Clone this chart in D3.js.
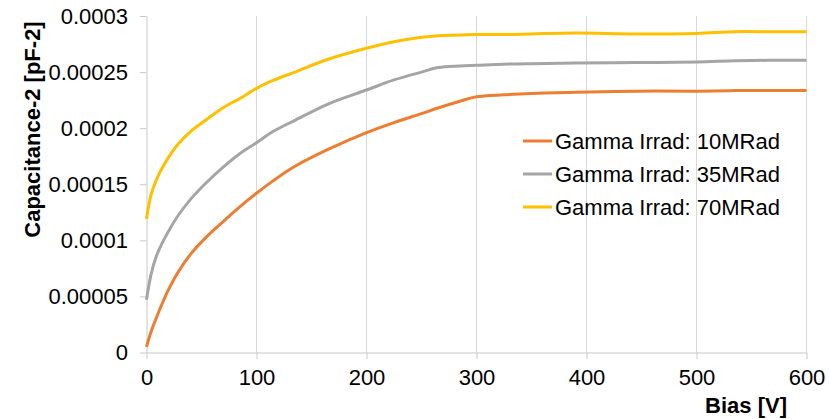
<!DOCTYPE html>
<html>
<head>
<meta charset="utf-8">
<script src="https://cdn.jsdelivr.net/npm/d3@7"></script>
<style>
  body { margin: 0; background: #fff; }
  text { font-family: "Liberation Sans", Arial, sans-serif; }
</style>
</head>
<body>
<div id="chart"></div>
<script>
// bias voltage samples [V]
const bias = [0, 4, 9, 14, 20, 28, 40, 55, 70, 85, 100, 115, 135, 165, 200, 225, 250, 265, 285, 300, 325, 350, 390, 445, 500, 535, 565, 600];

// 1/C^2 [pF-2] for each irradiation dose
const irrad10 = [0.000005, 0.000018, 0.000031, 0.000043, 0.000056, 0.0000705, 0.0000875, 0.0001035, 0.000117, 0.000130,
  0.000142, 0.000153, 0.000166, 0.000181, 0.000196, 0.000205, 0.000213, 0.000218, 0.000224, 0.000228,
  0.0002298, 0.000231, 0.000232, 0.000233, 0.000233, 0.0002335, 0.0002335, 0.0002335];
const irrad35 = [0.000047, 0.000069, 0.000086, 0.000097, 0.000108, 0.000121, 0.0001365, 0.000152, 0.0001655, 0.0001774,
  0.000187, 0.000197, 0.000207, 0.0002215, 0.000234, 0.000243, 0.000250, 0.000254, 0.0002554, 0.000256,
  0.000257, 0.0002575, 0.000258, 0.0002585, 0.000259, 0.00026, 0.0002605, 0.0002605];
const irrad70 = [0.000119, 0.000140, 0.000154, 0.000164, 0.000174, 0.000185, 0.000197, 0.000208, 0.0002185, 0.0002265,
  0.0002355, 0.0002425, 0.00025, 0.0002614, 0.0002712, 0.000277, 0.000281, 0.0002825, 0.000283, 0.0002835,
  0.0002835, 0.000284, 0.0002848, 0.000284, 0.0002845, 0.000286, 0.000286, 0.000286];

const seriesNames = ["Gamma Irrad: 10MRad", "Gamma Irrad: 35MRad", "Gamma Irrad: 70MRad"];
const seriesValues = [irrad10, irrad35, irrad70];
const colors = ["#ED7D31", "#A5A5A5", "#FFC000"];

const xTicks = [0, 100, 200, 300, 400, 500, 600];
const yTicks = [0, 0.00005, 0.0001, 0.00015, 0.0002, 0.00025, 0.0003];
const yTickLabels = ["0", "0.00005", "0.0001", "0.00015", "0.0002", "0.00025", "0.0003"];

const width = 829, height = 419;
const fontSize = 22;

const svg = d3.select("#chart").append("svg")
    .attr("width", width)
    .attr("height", height)
    .attr("viewBox", [0, 0, width, height]);

const x = d3.scaleLinear([0, 600], [146.5, 806.5]);
const y = d3.scaleLinear([0, 0.0003], [352.5, 16]);

// vertical gridlines
svg.append("g")
    .attr("stroke", "#d9d9d9")
    .attr("stroke-width", 1)
  .selectAll("line")
  .data(xTicks.slice(1))
  .join("line")
    .attr("x1", d => x(d))
    .attr("x2", d => x(d))
    .attr("y1", y(0.0003))
    .attr("y2", y(0));

// axes
svg.append("g")
    .attr("transform", `translate(0,${y(0)})`)
    .call(d3.axisBottom(x).tickValues(xTicks).tickSize(6.5).tickPadding(10.5).tickSizeOuter(0))
    .call(g => g.select(".domain").attr("stroke", "#c8c8c8"))
    .call(g => g.selectAll(".tick line").attr("stroke", "#c8c8c8"))
    .call(g => g.selectAll("text")
        .attr("font-size", fontSize)
        .attr("font-family", "Liberation Sans, Arial, sans-serif")
        .attr("fill", "#000"));

svg.append("g")
    .attr("transform", `translate(${x(0)},0)`)
    .call(d3.axisLeft(y).tickValues(yTicks).tickFormat((d, i) => yTickLabels[i])
        .tickSize(6.5).tickPadding(12).tickSizeOuter(0))
    .call(g => g.select(".domain").attr("stroke", "#c8c8c8"))
    .call(g => g.selectAll(".tick line").attr("stroke", "#c8c8c8"))
    .call(g => g.selectAll("text")
        .attr("font-size", fontSize)
        .attr("font-family", "Liberation Sans, Arial, sans-serif")
        .attr("fill", "#000"));

// series lines
const line = d3.line()
    .x((d, i) => x(bias[i]))
    .y(d => y(d))
    .curve(d3.curveCatmullRom.alpha(0.5));

svg.append("g")
    .attr("fill", "none")
    .attr("stroke-width", 3)
    .attr("stroke-linejoin", "round")
  .selectAll("path")
  .data(seriesValues)
  .join("path")
    .attr("stroke", (d, i) => colors[i])
    .attr("d", line);

// axis titles
svg.append("text")
    .attr("transform", "translate(39.5,129.5) rotate(-90)")
    .attr("text-anchor", "middle")
    .attr("font-size", fontSize)
    .attr("font-weight", "bold")
    .attr("fill", "#000")
    .text("Capacitance-2 [pF-2]");

svg.append("text")
    .attr("x", 787)
    .attr("y", 413)
    .attr("text-anchor", "end")
    .attr("font-size", fontSize)
    .attr("font-weight", "bold")
    .attr("fill", "#000")
    .text("Bias [V]");

// legend
const legend = svg.append("g")
  .selectAll("g")
  .data(seriesNames)
  .join("g")
    .attr("transform", (d, i) => `translate(523,${141 + i * 33})`);

legend.append("line")
    .attr("x1", 0)
    .attr("x2", 29)
    .attr("stroke", (d, i) => colors[i])
    .attr("stroke-width", 3);

legend.append("text")
    .attr("x", 32)
    .attr("dy", "0.35em")
    .attr("font-size", fontSize)
    .attr("fill", "#000")
    .text(d => d);
</script>
</body>
</html>
